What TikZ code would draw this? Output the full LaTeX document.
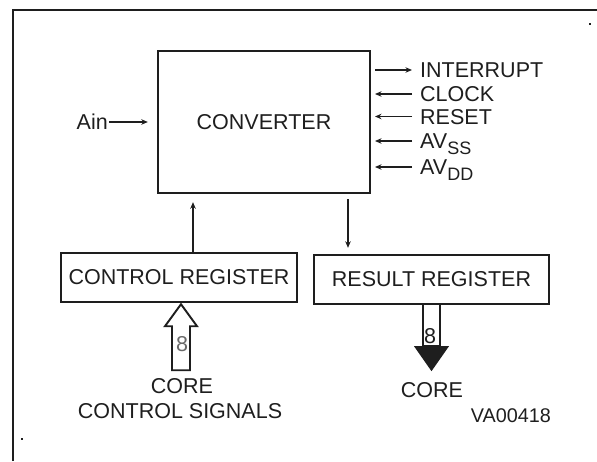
\documentclass[tikz,border=0pt]{standalone}
\usepackage{fontspec}
\setmainfont{Liberation Sans}
\usetikzlibrary{arrows.meta}
\definecolor{ink}{HTML}{1E1E1E}
\definecolor{grayink}{HTML}{6A6A6A}
\begin{document}
\begin{tikzpicture}[x=1pt,y=-1pt,
  box/.style={draw=ink,line width=2.4pt,inner sep=0pt,text=ink,font=\fontsize{21.5}{25}\selectfont},
  lbl/.style={inner sep=0pt,text=ink,font=\fontsize{21.5}{25}\selectfont,text height=15.4pt,text depth=0pt},
  conn/.style={draw=ink,line width=1.7pt,-{Stealth[length=6.5pt,width=5.5pt]}},
  frameline/.style={draw=ink,line width=2.4pt},
  widearrow/.style={draw=ink,line width=1.9pt,line join=miter}]
\useasboundingbox (0,0) rectangle (597,461);
% outer frame
\draw[frameline] (13,461) -- (13,10) -- (597,10);
\fill[ink] (589,23) rectangle (591,25);
\fill[ink] (21,438) rectangle (23,440);
% boxes
\node[box,minimum width=212pt,minimum height=142pt] (conv) at (264,122) {CONVERTER};
\node[box,minimum width=236pt,minimum height=49pt] (ctrl) at (179,277.5) {CONTROL REGISTER};
\node[box,minimum width=235pt,minimum height=49pt] (res) at (431.5,279.5) {RESULT REGISTER};
% Ain
\node[lbl,anchor=east] (ain) at (108,122) {Ain};
\draw[conn,shorten >=9pt,shorten <=1pt] (ain.east) -- (conv.west);
% signals
\node[lbl,anchor=west] (int) at (420,70) {INTERRUPT};
\node[lbl,anchor=west] (clk) at (420,94) {CLOCK};
\node[lbl,anchor=west] (rst) at (420,116.5) {RESET};
\node[lbl,anchor=west] (avss) at (420,141) {AV\raisebox{-6pt}{\fontsize{18}{18}\selectfont SS}};
\node[lbl,anchor=west] (avdd) at (420,167) {AV\raisebox{-6pt}{\fontsize{18}{18}\selectfont DD}};
\draw[conn] ([xshift=-45pt]int.west) -- ([xshift=-8pt]int.west);
\draw[conn] ([xshift=-8pt]clk.west) -- ([xshift=-45pt]clk.west);
\draw[conn] ([xshift=-8pt]rst.west) -- ([xshift=-45pt]rst.west);
\draw[conn] ([xshift=-8pt]avss.west) -- ([xshift=-45pt]avss.west);
\draw[conn] ([xshift=-8pt]avdd.west) -- ([xshift=-45pt]avdd.west);
% vertical connectors
\draw[conn,shorten >=8pt] ([xshift=14pt]ctrl.north) -- ([xshift=14pt]ctrl.north |- conv.south);
\draw[conn,shorten <=5pt,shorten >=6pt] ([xshift=84pt]conv.south) -- ([xshift=84pt]conv.south |- res.north);
% core control signals (hollow bus arrow)
\node[lbl] (core1) at (182,385.5) {CORE};
\node[lbl] (core2) at (180,410.5) {CONTROL SIGNALS};
\begin{scope}[shift={(ctrl.south)}]
  \draw[widearrow,fill=white] (2,1) -- (18,23) -- (11,23) -- (11,67) -- (-7,67) -- (-7,23) -- (-14,23) -- cycle;
  \node[lbl,text=grayink] (n8a) at (3,41) {8};
\end{scope}
% result bus arrow (filled head)
\node[lbl] (core3) at (432,390) {CORE};
\begin{scope}[shift={(res.south)}]
  \draw[widearrow,fill=white] (-8.5,0) -- (-8.5,41) -- (8.5,41) -- (8.5,0);
  \fill[ink] (-17.5,41) -- (17.5,41) -- (0,66) -- cycle;
  \node[lbl] (n8b) at (-1.5,31) {8};
\end{scope}
% figure id
\node[lbl,anchor=east,font=\fontsize{19.8}{23}\selectfont,text height=14.2pt] (va) at (551,415) {VA00418};
\end{tikzpicture}
\end{document}
